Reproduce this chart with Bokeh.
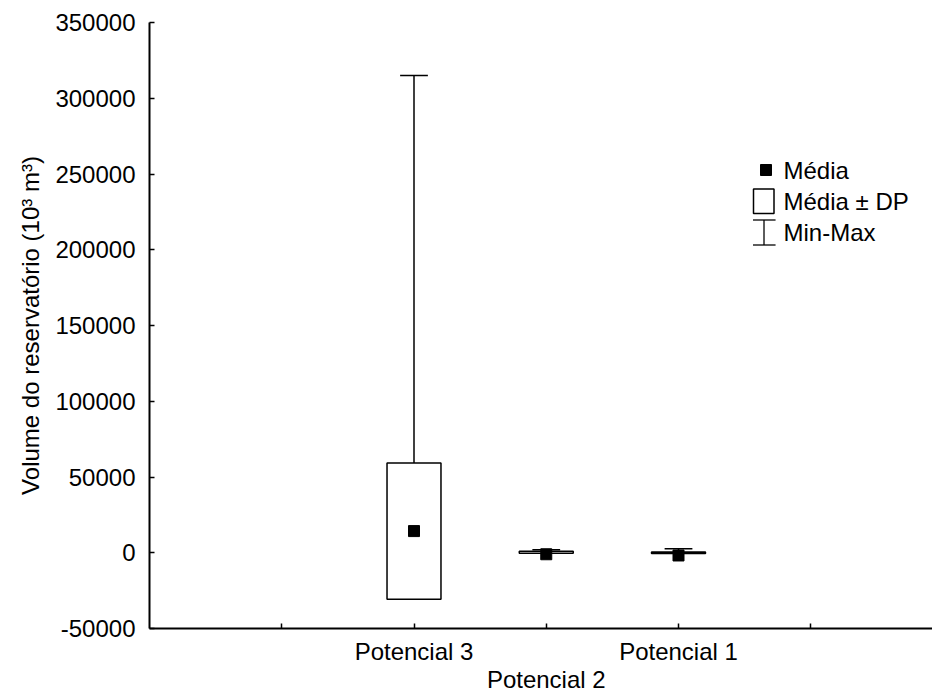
from bokeh.plotting import figure
from bokeh.models import (Range1d, FixedTicker, NumeralTickFormatter, Label, BoxAnnotation,
                          ColumnDataSource, LinearAxis)
from bokeh.embed import file_html
from bokeh.resources import INLINE

# ---- data ----
categorias = ["Potencial 3", "Potencial 2", "Potencial 1"]
posicoes = [2, 3, 4]
media = [14300, -1000, -1800]
media_menos_dp = [-30700, -300, -500]
media_mais_dp = [59300, 1000, 500]
minimo = [100, 0, 0]
maximo = [315000, 2000, 2600]

y_ticks = [-50000, 0, 50000, 100000, 150000, 200000, 250000, 300000, 350000]
x_ticks = [1, 2, 3, 4, 5]
x_tick_labels_row1 = {1: "", 2: "Potencial 3", 3: "", 4: "Potencial 1", 5: ""}
x_tick_labels_row2 = {1: "", 2: "", 3: "Potencial 2", 4: "", 5: ""}

FONT = "Liberation Sans"
FS = "24px"

W, H = 932, 695
ML, MT, MB, MR = 149, 22, 67, 0
FW = W - ML - MR
FH = H - MT - MB
X0, X1 = 0, FW / 132.25
Y0, Y1 = -50000, 350000

p = figure(width=W, height=H, output_backend="svg", toolbar_location=None,
           x_range=Range1d(X0, X1), y_range=Range1d(Y0, Y1),
           min_border_left=ML, min_border_top=MT, min_border_bottom=MB, min_border_right=MR)
p.outline_line_color = None
p.xgrid.visible = False
p.ygrid.visible = False
p.background_fill_color = "white"
p.border_fill_color = "white"


def style_axis(ax):
    ax.axis_line_width = 2
    ax.axis_line_color = "black"
    ax.major_tick_in = 5
    ax.major_tick_out = 0
    ax.minor_tick_in = 0
    ax.minor_tick_out = 0
    ax.major_tick_line_width = 1.5
    ax.major_tick_line_color = "black"
    ax.minor_tick_line_color = None
    ax.major_label_text_font = FONT
    ax.major_label_text_font_size = FS
    ax.major_label_text_color = "black"
    ax.axis_label_text_font = FONT
    ax.axis_label_text_font_size = FS
    ax.axis_label_text_font_style = "normal"
    ax.axis_label_text_color = "black"


style_axis(p.xaxis[0])
style_axis(p.yaxis[0])

p.yaxis.ticker = FixedTicker(ticks=y_ticks)
p.yaxis.formatter = NumeralTickFormatter(format="0")
p.yaxis.major_label_standoff = 14
p.yaxis.axis_label = "Volume do reservatório (10³ m³)"
p.yaxis.axis_label_standoff = 8

p.xaxis.ticker = FixedTicker(ticks=x_ticks)
p.xaxis.major_label_overrides = x_tick_labels_row1
p.xaxis.major_label_standoff = 9

# second row of category labels (staggered)
ax2 = LinearAxis(ticker=FixedTicker(ticks=x_ticks), major_label_overrides=x_tick_labels_row2)
style_axis(ax2)
ax2.axis_line_color = None
ax2.major_tick_line_color = None
ax2.major_tick_in = 0
ax2.major_label_standoff = -2
p.add_layout(ax2, "below")

# ---- data marks ----
half_box = 0.204
half_cap = 0.105
src = ColumnDataSource(dict(
    x=posicoes, media=media, lo=media_menos_dp, hi=media_mais_dp,
    mn=minimo, mx=maximo,
    left=[x - half_box for x in posicoes], right=[x + half_box for x in posicoes],
    cl=[x - half_cap for x in posicoes], cr=[x + half_cap for x in posicoes],
))

p.segment(x0="x", y0="hi", x1="x", y1="mx", source=src, line_color="black", line_width=1.5)
p.segment(x0="cl", y0="mx", x1="cr", y1="mx", source=src, line_color="black", line_width=1.5)
low_x = [x for x, m, l in zip(posicoes, minimo, media_menos_dp) if m < l]
low_mn = [m for m, l in zip(minimo, media_menos_dp) if m < l]
low_lo = [l for m, l in zip(minimo, media_menos_dp) if m < l]
if low_x:
    p.segment(x0=low_x, y0=low_lo, x1=low_x, y1=low_mn, line_color="black", line_width=1.5)
    p.segment(x0=[x - half_cap for x in low_x], y0=low_mn, x1=[x + half_cap for x in low_x], y1=low_mn,
              line_color="black", line_width=1.5)

p.quad(left="left", right="right", bottom="lo", top="hi", source=src,
       fill_color="white", line_color="black", line_width=1.5)
p.scatter(x="x", y="media", source=src, marker="square", size=11,
          fill_color="black", line_color="black")

# ---- legend (drawn manually) ----
def dx(px):
    return X0 + (px - ML) / FW * (X1 - X0)


def dy(py):
    return Y1 - (py - MT) / FH * (Y1 - Y0)


lg_text_x = 783
legend_rows = [("Média", 170), ("Média ± DP", 201), ("Min-Max", 232)]
for txt, py in legend_rows:
    p.add_layout(Label(x=dx(lg_text_x), y=dy(py), text=txt, text_align="left",
                       text_baseline="middle", text_font=FONT, text_font_size=FS, text_color="black"))

swatch = dict(line_color="black", line_alpha=1)
p.add_layout(BoxAnnotation(left=dx(760), right=dx(771), top=dy(164), bottom=dy(175),
                           fill_color="black", fill_alpha=1, line_width=1, **swatch))
p.add_layout(BoxAnnotation(left=dx(753), right=dx(773.5), top=dy(188.5), bottom=dy(213),
                           fill_color="white", fill_alpha=1, line_width=1.5, **swatch))
p.add_layout(BoxAnnotation(left=dx(763.5), right=dx(763.5), top=dy(219.5), bottom=dy(244.5),
                           fill_alpha=0, line_width=0.8, **swatch))
p.add_layout(BoxAnnotation(left=dx(752.5), right=dx(775), top=dy(219.5), bottom=dy(219.5),
                           fill_alpha=0, line_width=0.8, **swatch))
p.add_layout(BoxAnnotation(left=dx(752.5), right=dx(775), top=dy(244.5), bottom=dy(244.5),
                           fill_alpha=0, line_width=0.8, **swatch))

open("out.html", "w").write(file_html(p, INLINE))
